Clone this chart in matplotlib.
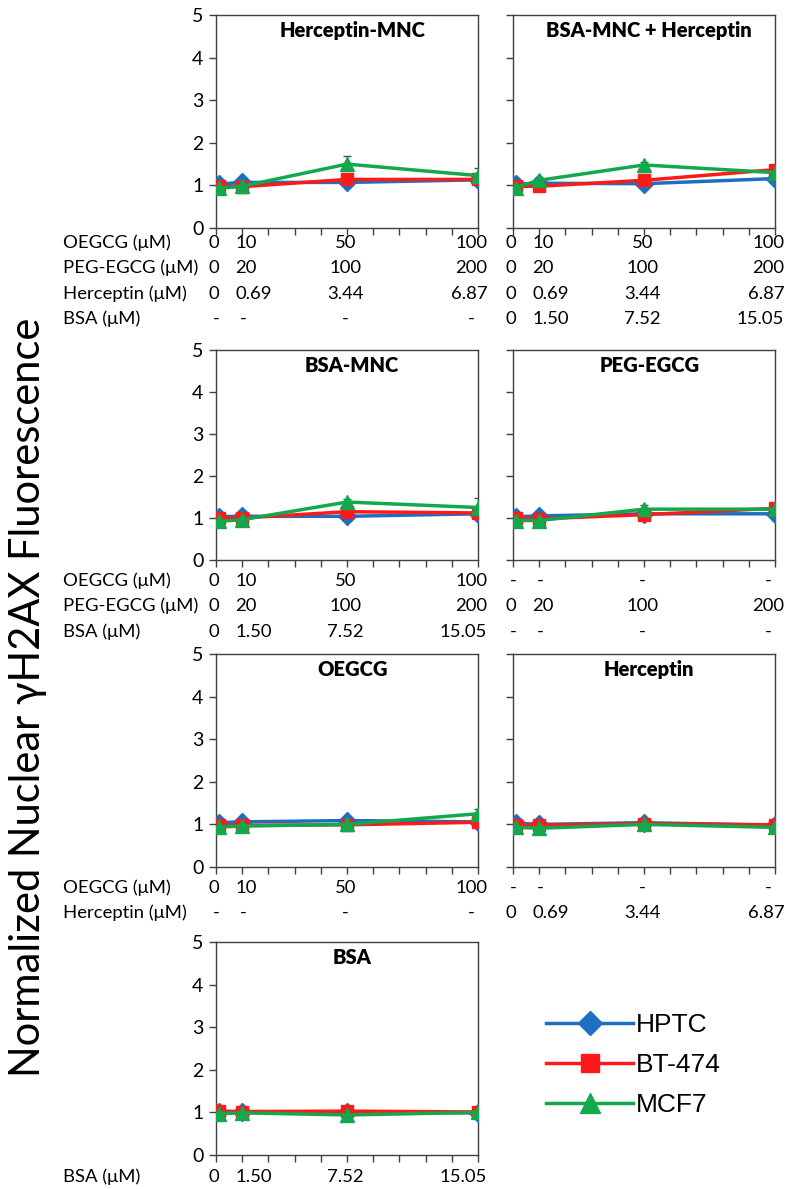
import numpy as np
import matplotlib.pyplot as plt
from matplotlib.transforms import blended_transform_factory

plt.rcParams['font.family'] = ['Lato', 'DejaVu Sans']

# Data
x_pos = [1, 10, 50, 100]
series = ["HPTC", "BT-474", "MCF7"]
colors = ["#1f6fc1", "#ff1a1a", "#13a84e"]
markers = ["D", "s", "^"]

titles = ["Herceptin-MNC", "BSA-MNC + Herceptin", "BSA-MNC", "PEG-EGCG",
          "OEGCG", "Herceptin", "BSA"]

# HPTC, BT-474, MCF7 per panel
herceptin_mnc = [[1.03, 1.07, 1.07, 1.13], [0.98, 0.97, 1.14, 1.14], [0.93, 0.98, 1.50, 1.23]]
bsa_mnc_herceptin = [[1.03, 1.05, 1.04, 1.16], [0.98, 0.98, 1.12, 1.37], [0.95, 1.12, 1.48, 1.30]]
bsa_mnc = [[1.03, 1.04, 1.04, 1.10], [1.00, 1.00, 1.15, 1.12], [0.92, 0.96, 1.38, 1.25]]
peg_egcg = [[1.03, 1.05, 1.10, 1.10], [0.99, 0.98, 1.08, 1.23], [0.94, 0.94, 1.21, 1.21]]
oegcg = [[1.04, 1.06, 1.09, 1.06], [0.99, 0.98, 0.99, 1.05], [0.94, 0.96, 1.00, 1.25]]
herceptin = [[1.03, 1.00, 1.04, 0.98], [0.99, 0.98, 1.02, 0.99], [0.93, 0.91, 1.00, 0.93]]
bsa = [[1.00, 1.00, 1.00, 0.99], [1.03, 1.02, 1.03, 1.01], [0.97, 0.99, 0.94, 1.00]]

# upper error bars, HPTC, BT-474, MCF7 per panel
herceptin_mnc_err = [[0.03, 0.03, 0.03, 0.03], [0.03, 0.03, 0.04, 0.04], [0.03, 0.03, 0.20, 0.18]]
bsa_mnc_herceptin_err = [[0.03, 0.03, 0.03, 0.03], [0.03, 0.03, 0.04, 0.06], [0.03, 0.05, 0.06, 0.04]]
bsa_mnc_err = [[0.03, 0.03, 0.03, 0.03], [0.03, 0.03, 0.04, 0.04], [0.03, 0.03, 0.07, 0.22]]
peg_egcg_err = [[0.03, 0.03, 0.03, 0.03], [0.03, 0.03, 0.03, 0.04], [0.03, 0.03, 0.10, 0.04]]
oegcg_err = [[0.03, 0.03, 0.03, 0.03], [0.03, 0.03, 0.03, 0.03], [0.03, 0.03, 0.03, 0.12]]
herceptin_err = [[0.03, 0.03, 0.03, 0.03], [0.03, 0.03, 0.03, 0.03], [0.03, 0.03, 0.03, 0.03]]
bsa_err = [[0.02, 0.02, 0.02, 0.02], [0.02, 0.02, 0.02, 0.02], [0.02, 0.02, 0.02, 0.02]]

panel_values = [herceptin_mnc, bsa_mnc_herceptin, bsa_mnc, peg_egcg, oegcg, herceptin, bsa]
panel_errors = [herceptin_mnc_err, bsa_mnc_herceptin_err, bsa_mnc_err, peg_egcg_err,
                oegcg_err, herceptin_err, bsa_err]

# concentration tables under the panels
oegcg_conc = ["0", "10", "50", "100"]
peg_conc = ["0", "20", "100", "200"]
herceptin_conc = ["0", "0.69", "3.44", "6.87"]
bsa_conc = ["0", "1.50", "7.52", "15.05"]
none_conc = ["-", "-", "-", "-"]

row1_labels = ["OEGCG (\u03bcM)", "PEG-EGCG (\u03bcM)", "Herceptin (\u03bcM)", "BSA (\u03bcM)"]
row1_left = [oegcg_conc, peg_conc, herceptin_conc, none_conc]
row1_right = [oegcg_conc, peg_conc, herceptin_conc, bsa_conc]
row2_labels = ["OEGCG (\u03bcM)", "PEG-EGCG (\u03bcM)", "BSA (\u03bcM)"]
row2_left = [oegcg_conc, peg_conc, bsa_conc]
row2_right = [none_conc, peg_conc, none_conc]
row3_labels = ["OEGCG (\u03bcM)", "Herceptin (\u03bcM)"]
row3_left = [oegcg_conc, none_conc]
row3_right = [none_conc, herceptin_conc]
row4_labels = ["BSA (\u03bcM)"]
row4_left = [bsa_conc]

# Layout (pixels)
W, H = 795, 1189
fig = plt.figure(figsize=(W / 100, H / 100), dpi=100)

col_x = [(216, 478), (513, 775)]
row_y = [(15, 228), (350, 560), (654, 867), (942, 1155)]
slots = [(0, 0), (0, 1), (1, 0), (1, 1), (2, 0), (2, 1), (3, 0)]

axes = []
for i, (r, c) in enumerate(slots):
    x0, x1 = col_x[c]
    y0, y1 = row_y[r]
    ax = fig.add_axes([x0 / W, 1 - y1 / H, (x1 - x0) / W, (y1 - y0) / H])
    for j in range(3):
        err = panel_errors[i][j]
        ax.errorbar(x_pos, panel_values[i][j], yerr=[np.zeros(4), err],
                    color=colors[j], marker=markers[j], markersize=9 if j < 2 else 10,
                    lw=2.5, elinewidth=1, capsize=3, ecolor="#3a5a40" if j == 2 else colors[j],
                    label=series[j], zorder=3 + j)
    ax.set_xlim(0, 100)
    ax.set_ylim(0, 5)
    ax.set_xticks(np.arange(0, 101, 10))
    ax.set_xticklabels([])
    ax.set_yticks(range(6))
    if c == 0:
        ax.tick_params(axis="y", labelsize=14, pad=4)
    else:
        ax.set_yticklabels([])
    ax.tick_params(direction="out", length=5, width=1, color="#404040")
    for s in ax.spines.values():
        s.set_color("#404040")
        s.set_linewidth(1)
    ax.text(0.52, 0.925, titles[i], transform=ax.transAxes, ha="center", va="center",
            fontsize=14.5, fontweight="heavy")
    axes.append(ax)

# Concentration tables
val_x = [-0.8, 7.3, 49.5, 103.5]
val_ha = ["center", "left", "center", "right"]
dash_x = [0.3, 10.3, 49.5, 97.5]


def put_row(ax, ypix, vals):
    tr = blended_transform_factory(ax.transData, fig.transFigure)
    for k, v in enumerate(vals):
        if v == "-":
            ax.text(dash_x[k], 1 - ypix / H, v, transform=tr, ha="center", va="center",
                    fontsize=13.3, clip_on=False)
        else:
            ax.text(val_x[k], 1 - ypix / H, v, transform=tr, ha=val_ha[k], va="center",
                    fontsize=13.3, clip_on=False)


tables = [
    (row1_labels, row1_left, row1_right, [243, 268, 294, 319], 0, 1),
    (row2_labels, row2_left, row2_right, [581, 606, 632], 2, 3),
    (row3_labels, row3_left, row3_right, [888, 913], 4, 5),
    (row4_labels, row4_left, None, [1177], 6, None),
]
for labels, left, right, ys, ia, ib in tables:
    for k, lab in enumerate(labels):
        fig.text(63 / W, 1 - ys[k] / H, lab, ha="left", va="center", fontsize=13.3)
        put_row(axes[ia], ys[k], left[k])
        if right is not None:
            put_row(axes[ib], ys[k], right[k])

# Y label
fig.text(28 / W, 1 - 697 / H, "Normalized Nuclear \u03b3H2AX Fluorescence", rotation=90,
         ha="center", va="center", fontsize=30,
         family=["Liberation Sans Narrow", "Lato", "DejaVu Sans"])

# Legend
handles, labs = axes[0].get_legend_handles_labels()
handles = [h[0] for h in handles]
fig.legend(handles, labs, loc="upper left", bbox_to_anchor=(533 / W, 1 - 1000 / H),
           frameon=False, prop={"family": "Liberation Sans", "size": 19},
           handlelength=3.3, handletextpad=0.1, labelspacing=0.6, markerscale=1.4,
           borderpad=0)

plt.savefig("out.png", dpi=100)
